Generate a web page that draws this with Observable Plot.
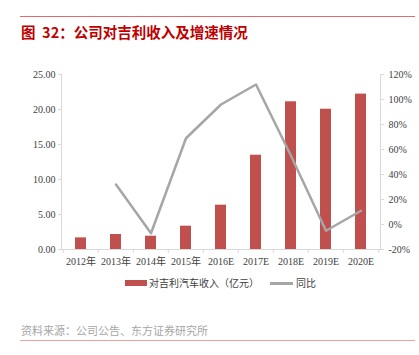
<!DOCTYPE html>
<html><head><meta charset="utf-8">
<script src="https://cdn.jsdelivr.net/npm/d3@7"></script>
<script src="https://cdn.jsdelivr.net/npm/@observablehq/plot@0.6"></script>
<style>
body{margin:0;background:#fff;}
#wrap{position:relative;width:419px;height:355px;overflow:hidden;font-family:"Noto Sans CJK SC","Noto Sans",sans-serif;}
.hline{position:absolute;left:20px;width:395px;height:1px;}
#title{position:absolute;left:21px;top:22px;font-size:14.5px;font-weight:bold;color:#c00000;line-height:20px;white-space:pre;}
#chart{position:absolute;left:0;top:50px;}
#legend{position:absolute;top:276px;left:0;width:419px;height:14px;font-size:10px;color:#404040;}
.sw{position:absolute;}
.lt{position:absolute;top:0;line-height:14px;white-space:nowrap;}
#source{position:absolute;left:21px;top:322px;font-size:11px;color:#a6a6a6;line-height:16px;white-space:nowrap;}
</style></head><body>
<div id="wrap">
  <div class="hline" style="top:16px;background:#e06c6c;"></div>
  <div id="title">图  32：公司对吉利收入及增速情况</div>
  <div id="chart"></div>
  <div id="legend">
    <div class="sw" style="left:125px;top:4px;width:22px;height:6px;background:#c0504d;"></div>
    <div class="lt" style="left:149px;">对吉利汽车收入（亿元）</div>
    <div class="sw" style="left:270px;top:6px;width:23px;height:3px;background:#a6a6a6;"></div>
    <div class="lt" style="left:296px;">同比</div>
  </div>
  <div id="source">资料来源：公司公告、东方证券研究所</div>
  <div class="hline" style="top:340px;background:#f0a0a0;"></div>
</div>
<script>
const categories = ["2012年","2013年","2014年","2015年","2016E","2017E","2018E","2019E","2020E"];
const revenue = [1.66, 2.14, 1.90, 3.33, 6.33, 13.47, 21.1, 20.04, 22.2];
const growth = [null, 32, -7, 69, 96, 112, 55, -5, 11];
const leftTicks = [0, 5, 10, 15, 20, 25];
const rightTicks = [-20, 0, 20, 40, 60, 80, 100, 120];

const leftMax = 25, rMin = -20, rMax = 120;
const toLeft = p => (p - rMin) * leftMax / (rMax - rMin);
const fromLeft = v => Math.round(v * (rMax - rMin) / leftMax + rMin);

const W = 419, H = 225, mL = 61, mR = 39, mT = 24, mB = 26;
const step = (W - mL - mR) / categories.length;

const bars = categories.map((c, i) => ({cat: c, v: revenue[i]}));
const line = categories.map((c, i) => ({cat: c, g: growth[i]})).filter(d => d.g != null).map(d => ({cat: d.cat, y: toLeft(d.g)}));

const font = {fontFamily: '"Liberation Serif","Noto Sans CJK SC",serif', fontSize: "10px"};
const axisCol = "#d9d9d9", txtCol = "#404040";

const chart = Plot.plot({
  width: W, height: H,
  marginTop: mT, marginBottom: mB, marginLeft: mL, marginRight: mR,
  style: {...font, background: "transparent", color: txtCol},
  x: {domain: categories, paddingInner: 0.69, paddingOuter: 0.345, label: null, axis: null},
  y: {domain: [0, leftMax], label: null, axis: null},
  marks: [
    Plot.barY(bars, {x: "cat", y: "v", fill: "#c0504d"}),
    Plot.line(line, {x: "cat", y: "y", stroke: "#a6a6a6", strokeWidth: 2.5}),
    Plot.frame({anchor: "left", stroke: axisCol}),
    Plot.frame({anchor: "right", stroke: axisCol}),
    Plot.frame({anchor: "bottom", stroke: axisCol}),
    Plot.axisY(leftTicks, {anchor: "left", tickSize: 3, tickPadding: 3, tickFormat: d => d.toFixed(2), stroke: axisCol, fill: txtCol, label: null}),
    Plot.axisY(rightTicks.map(toLeft), {anchor: "right", tickSize: 3, tickPadding: 5, tickFormat: d => fromLeft(d) + "%", stroke: axisCol, fill: txtCol, label: null}),
    Plot.axisX(categories, {anchor: "bottom", tickSize: 4, dx: -step / 2, tickFormat: () => "", stroke: axisCol, label: null}),
    Plot.axisX([categories[categories.length - 1]], {anchor: "bottom", tickSize: 4, dx: step / 2, tickFormat: () => "", stroke: axisCol, label: null}),
    Plot.axisX(categories, {anchor: "bottom", tickSize: 0, tickPadding: 8, fill: txtCol, label: null})
  ]
});
document.getElementById("chart").appendChild(chart);
</script>
</body></html>
